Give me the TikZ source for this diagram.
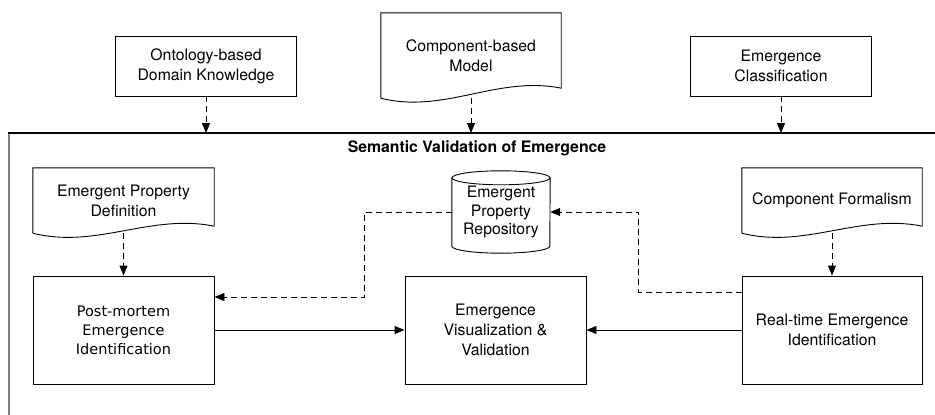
\documentclass[tikz,border=0pt]{standalone}
\usepackage{fontspec}
\setmainfont{TeX Gyre Heros}
\newfontfamily\pmfont{DejaVu Sans}
\usepackage{tikz}
\usetikzlibrary{arrows.meta,calc,shapes}

\newcommand{\boxfont}{\fontsize{15.8}{20}\selectfont}
% document shape with a wavy lower edge, drawn round a plain node
\newcommand{\docpath}[2]{%
  \draw[outline] (#1.south west) -- (#1.north west) -- (#1.north east)
    -- ($(#1.south east)+(0,-#2)$)
    .. controls ($(#1.south west)!0.65!(#1.south east)+(0,-#2-13)$)
    and ($(#1.south west)!0.35!(#1.south east)+(0,16)$) .. (#1.south west);}

\begin{document}
\begin{tikzpicture}[x=1pt,y=-1pt,
    outline/.style={line width=0.9pt},
    box/.style={draw, outline, minimum width=181pt, minimum height=60pt,
      inner sep=0pt, align=center, font=\boxfont},
    docnode/.style={minimum width=181pt, minimum height=65pt,
      inner sep=0pt, align=center, font=\boxfont},
    dasharrow/.style={outline, dash pattern=on 6pt off 4pt,
      -{Triangle[length=10pt,width=8pt]}},
    solidarrow/.style={outline, -{Triangle[length=10pt,width=8pt]}}]
  \path[use as bounding box] (0,0) rectangle (935,415);

  % inputs from outside
  \node[name=onto, box] at (206,66) {Ontology-based\\Domain Knowledge};
  \node[name=cbm, docnode, minimum width=180pt, minimum height=85pt] at (471,55.5)
    {Component-based\\Model};
  \docpath{cbm}{10}
  \node[name=ecls, box] at (781,66) {Emergence\\Classification};

  % the surrounding frame
  \coordinate (ftop) at (0,133);
  \draw[black!50, line width=2pt] (9,415) -- (9,133);
  \draw[line width=1.2pt] (8,133) -- (935,133);
  \node[name=title, font=\boxfont\bfseries] at (477,148) {Semantic Validation of Emergence};

  % inner row of sources
  \node[name=epd, docnode] at (123.5,200.5) {Emergent Property\\Definition};
  \docpath{epd}{7}
  \node[name=repo, minimum width=98pt, minimum height=82pt, inner sep=0pt,
    align=center, font=\fontsize{15.8}{18.5}\selectfont] at (501,212)
    {Emergent\\Property\\Repository};
  \draw[outline] ($(repo.north west)+(0,7)$) -- ($(repo.south west)+(0,-7)$)
    arc[start angle=180, end angle=360, x radius=49pt, y radius=7pt]
    -- ($(repo.north east)+(0,7)$);
  \draw[outline] ($(repo.north)+(0,7)$) ellipse [x radius=49pt, y radius=7pt];
  \node[name=cf, docnode, minimum width=180pt] at (832,200.5) {Component Formalism};
  \docpath{cf}{7}

  % processing boxes
  \node[name=pm, box, minimum height=108pt,
    font=\pmfont\fontsize{14.5}{19}\selectfont] at (123.5,330)
    {Post-mortem\\Emergence\\Identification};
  \node[name=vis, box, minimum height=108pt] at (495.5,330)
    {Emergence\\Visualization \&\\Validation};
  \node[name=rt, box, minimum width=180pt, minimum height=108pt] at (832,330)
    {Real-time Emergence\\Identification};

  % connectors
  \draw[dasharrow] (onto) -- (onto.south |- ftop);
  \draw[dasharrow] (cbm.south) -- (cbm.south |- ftop);
  \draw[dasharrow] (ecls) -- (ecls.south |- ftop);
  \draw[dasharrow] (epd.south) -- (pm.north);
  \draw[dasharrow] (cf.south) -- (rt.north);
  \draw[dasharrow] (repo.west) -- ++(-87,0) |- ([yshift=33pt]pm.east);
  \draw[dasharrow] ([yshift=38pt]rt.west) -- ++(-103,0) |- (repo.east);
  \draw[solidarrow] (pm) -- (vis);
  \draw[solidarrow] (rt) -- (vis);
\end{tikzpicture}
\end{document}
